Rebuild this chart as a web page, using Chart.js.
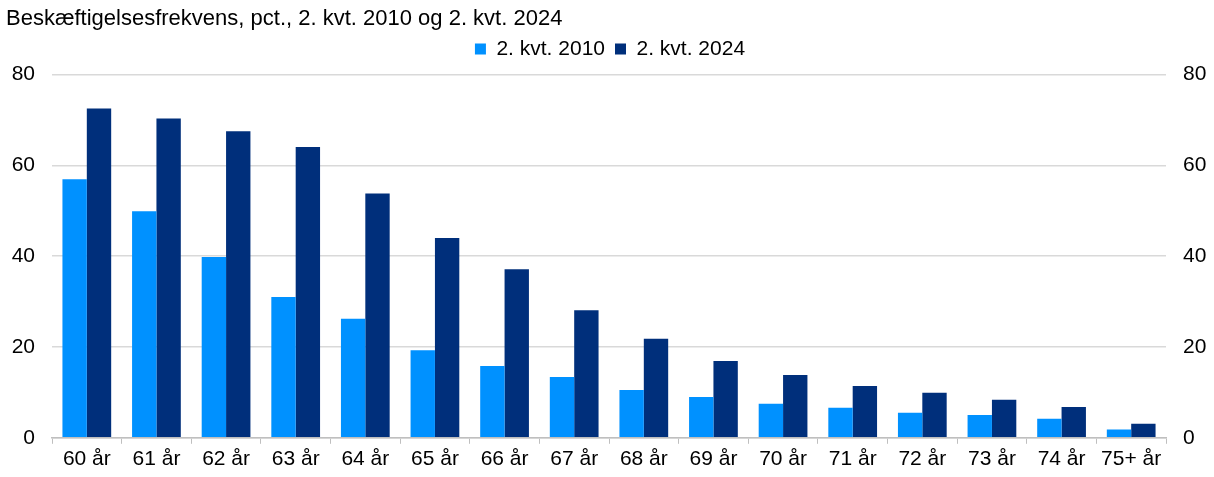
<!DOCTYPE html>
<html>
<head>
<meta charset="utf-8">
<script src="https://cdn.jsdelivr.net/npm/chart.js@4"></script>
<style>
  body { margin: 0; background: #fff; }
  #wrap { width: 1214px; height: 477px; }
</style>
</head>
<body>
<div id="wrap"><canvas id="myChart" width="1214" height="477"></canvas></div>
<script>
const categories = ['60 år', '61 år', '62 år', '63 år', '64 år', '65 år', '66 år', '67 år',
    '68 år', '69 år', '70 år', '71 år', '72 år', '73 år', '74 år', '75+ år'];
const q2_2010 = [56.9, 49.9, 39.8, 31.0, 26.2, 19.3, 15.8, 13.4, 10.5, 9.0, 7.5, 6.6, 5.5, 5.0, 4.2, 1.8];
const q2_2024 = [72.5, 70.3, 67.5, 64.0, 53.8, 44.0, 37.1, 28.1, 21.8, 16.9, 13.8, 11.4, 9.9, 8.4, 6.8, 3.1];
const yTicks = [0, 20, 40, 60, 80];

const fnt = { family: '"Liberation Sans", Arial, sans-serif', size: 21 };
Chart.defaults.color = '#000';

// ekstra luft under legenden
const legendGap = {
    id: 'legendGap',
    beforeInit(chart) {
        const fit = chart.legend.fit;
        chart.legend.fit = function () {
            fit.bind(chart.legend)();
            this.height += 5;
        };
    }
};

const ctx = document.getElementById('myChart');

new Chart(ctx, {
    type: 'bar',
    data: {
        labels: categories,
        datasets: [{
            label: '2. kvt. 2010',
            data: q2_2010,
            backgroundColor: '#0091FF',
            yAxisID: 'y'
        },
        {
            label: '2. kvt. 2024',
            data: q2_2024,
            backgroundColor: '#002F7B',
            yAxisID: 'y'
        }]
    },
    options: {
        responsive: false,
        animation: false,
        devicePixelRatio: 1,
        layout: { padding: { left: 6, right: 0, top: 6, bottom: 2 } },
        datasets: {
            bar: { categoryPercentage: 0.7, barPercentage: 1.0 }
        },
        scales: {
            x: {
                offset: true,
                grid: {
                    offset: true,
                    drawOnChartArea: false,
                    drawTicks: true,
                    tickLength: 6,
                    color: '#bfbfbf'
                },
                border: { display: true, color: '#bfbfbf', width: 1.5 },
                ticks: { font: fnt, padding: 3, maxRotation: 0, autoSkip: false }
            },
            y: {
                position: 'left',
                min: 0,
                max: 80,
                afterBuildTicks: s => { s.ticks = yTicks.map(v => ({ value: v })); },
                afterFit: s => { s.width = 46; },
                grid: { color: '#d9d9d9', lineWidth: 1.5, drawTicks: false },
                border: { display: false },
                ticks: { font: fnt, padding: 17 }
            },
            y2: {
                position: 'right',
                min: 0,
                max: 80,
                afterBuildTicks: s => { s.ticks = yTicks.map(v => ({ value: v })); },
                afterFit: s => { s.width = 48; },
                grid: { drawOnChartArea: false, drawTicks: false },
                border: { display: false },
                ticks: { font: fnt, padding: 17 }
            }
        },
        plugins: {
            title: {
                display: true,
                text: 'Beskæftigelsesfrekvens, pct., 2. kvt. 2010 og 2. kvt. 2024',
                align: 'start',
                color: '#000',
                font: { family: fnt.family, size: 22, weight: 'normal' },
                padding: { top: 0, bottom: -4 }
            },
            legend: {
                position: 'top',
                labels: {
                    font: fnt,
                    boxWidth: 11,
                    boxHeight: 11,
                    padding: 10
                }
            },
            tooltip: { enabled: false }
        }
    },
    plugins: [legendGap]
});
</script>
</body>
</html>
